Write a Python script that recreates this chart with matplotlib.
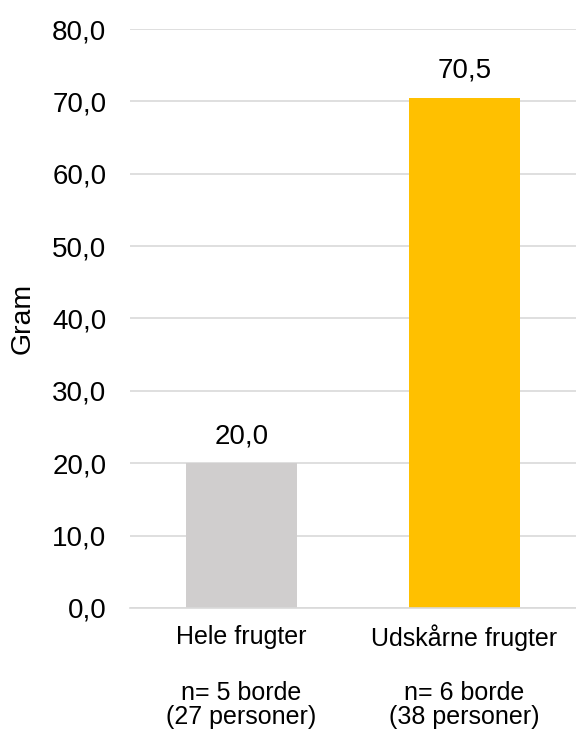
import matplotlib
matplotlib.use("Agg")
import matplotlib.pyplot as plt
from matplotlib.ticker import FuncFormatter
import matplotlib.transforms as mtransforms

categories = ["Hele frugter", "Udskårne frugter"]
values = [20.0, 70.5]
sample_lines = ["n= 5 borde\n(27 personer)", "n= 6 borde\n(38 personer)"]
colors = ["#d0cece", "#ffc000"]

plt.rcParams["font.family"] = ["Liberation Sans", "DejaVu Sans"]

fig = plt.figure(figsize=(5.76, 7.31), dpi=100)
ax = fig.add_axes([0.2257, 0.1683, 0.7743, 0.792])

x = range(len(categories))
bars = ax.bar(x, values, width=0.5, color=colors, zorder=2)

ax.set_xlim(-0.5, 1.5)
ax.set_ylim(0, 80)
ax.set_yticks(range(0, 81, 10))
ax.yaxis.set_major_formatter(FuncFormatter(lambda v, p: f"{v:.1f}".replace(".", ",")))
ax.tick_params(axis="y", length=0, labelsize=20, pad=17)
ax.grid(axis="y", color="#d9d9d9", linewidth=1.2, zorder=0)
for s in ["top", "right", "left"]:
    ax.spines[s].set_visible(False)
ax.spines["bottom"].set_color("#d9d9d9")
ax.spines["bottom"].set_linewidth(1.2)

ax.set_xticks(list(x))
ax.set_xticklabels(categories, fontsize=18)
ax.tick_params(axis="x", length=0, pad=12)

for b, v in zip(bars, values):
    ax.annotate(f"{v:.1f}".replace(".", ","), (b.get_x() + b.get_width() / 2, v),
                xytext=(0, 10), textcoords="offset points",
                ha="center", va="bottom", fontsize=20)

trans = mtransforms.blended_transform_factory(ax.transData, fig.transFigure)
for i, txt in enumerate(sample_lines):
    ax.text(i, 1 - 705 / 731, txt, transform=trans, ha="center", va="center",
            fontsize=18, linespacing=1.05)

ax.set_ylabel("Gram", fontsize=20.5, labelpad=12)

fig.savefig("out.png", dpi=100)
